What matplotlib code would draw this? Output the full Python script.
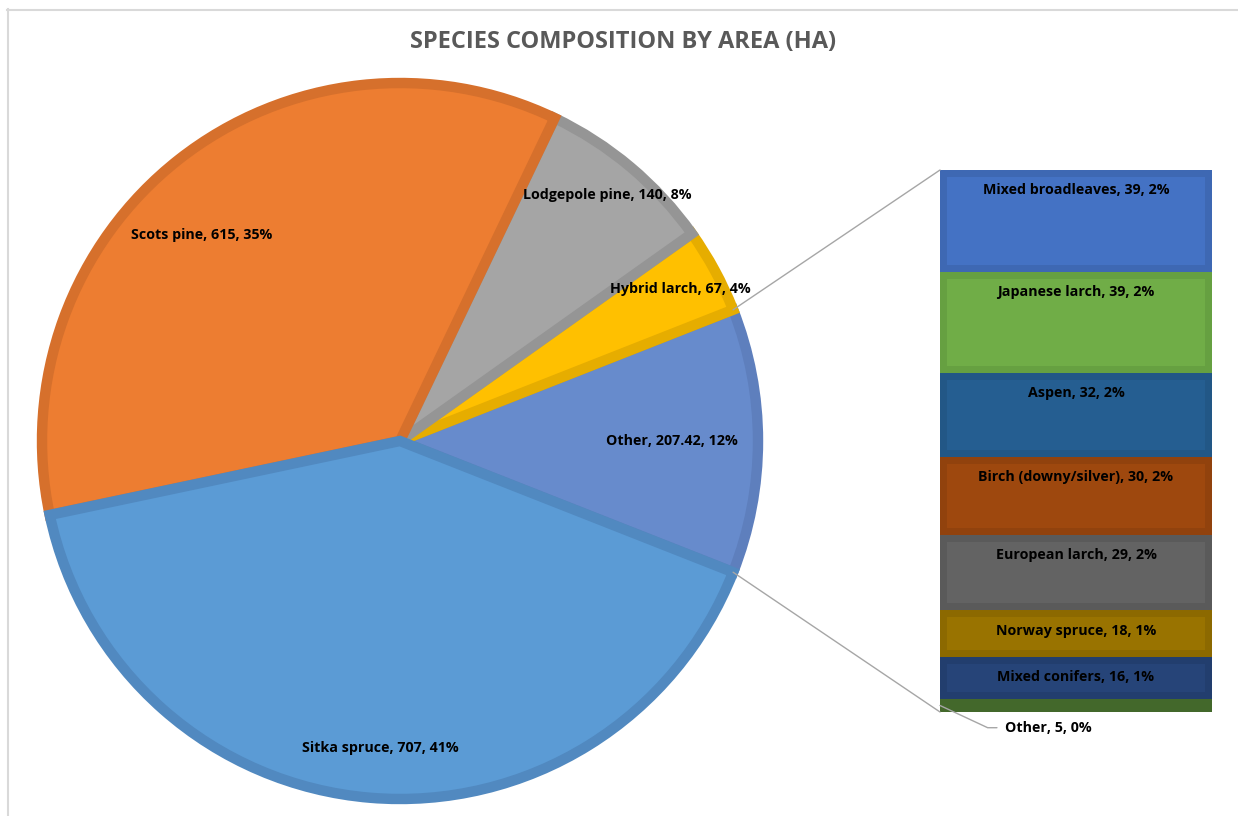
import numpy as np
import matplotlib
matplotlib.use("Agg")
import matplotlib.pyplot as plt
from matplotlib.patches import ConnectionPatch

plt.rcParams['font.family'] = ['Open Sans', 'DejaVu Sans']

# pie data (counter-clockwise from the right, "Other" first)
pie_labels = ["Other", "Hybrid larch", "Lodgepole pine", "Scots pine", "Sitka spruce"]
pie_values = [207.42, 67, 140, 615, 707]
pie_colors = ["#678BCC", "#FFC000", "#A5A5A5", "#ED7D31", "#5B9BD5"]
pie_edges = ["#5E7FBD", "#E6AD00", "#959595", "#D6702C", "#5189C0"]

# breakdown of "Other" (top to bottom)
bar_labels = ["Mixed broadleaves", "Japanese larch", "Aspen", "Birch (downy/silver)",
              "European larch", "Norway spruce", "Mixed conifers", "Other"]
bar_values = [39, 39, 32, 30, 29, 18, 16, 5]
bar_colors = ["#4472C4", "#70AD47", "#255E91", "#9E480E",
              "#636363", "#997300", "#264478", "#43682B"]
bar_edges = ["#3E68B3", "#66A041", "#225786", "#91420D",
             "#5A5A5A", "#8C6900", "#223E6E", "#43682B"]

W, H = 1238, 816
FS = 10.3
fig = plt.figure(figsize=(W / 100, H / 100), dpi=100)
ax = fig.add_axes([0, 0, 1, 1])

total = sum(pie_values)
cx, cy, R = 400, H - 441, 358
start = -pie_values[0] / total * 180

wedges, _ = ax.pie(pie_values, colors=pie_colors, startangle=start,
                   center=(cx, cy), radius=R, counterclock=True)
for w, ec in zip(wedges, pie_edges):
    w.set_edgecolor(ec)
    w.set_linewidth(7.5)
    w.set_joinstyle('miter')
    w.set_clip_path(w)

# label placement (radius fraction and angle nudge)
label_r = [0.76, 0.89, 0.90, 0.80, 0.86]
label_shift = [0, 0, 0, 5.7, 1.1]
for w, name, v, rf, sh in zip(wedges, pie_labels, pie_values, label_r, label_shift):
    mid = np.deg2rad((w.theta1 + w.theta2) / 2 + sh)
    pct = v / total * 100
    ax.text(cx + rf * R * np.cos(mid), cy + rf * R * np.sin(mid),
            f"{name}, {v:g}, {pct:.0f}%", ha='center', va='center',
            fontsize=FS, fontweight='bold', color='black')

ax.set_xlim(0, W)
ax.set_ylim(0, H)
ax.axis('off')

# bar of the "Other" slice
ax2 = fig.add_axes([940 / W, 104 / H, 272 / W, 542 / H])
btotal = sum(bar_values)
bottoms = btotal - np.cumsum(bar_values)
bars = ax2.bar(0, bar_values, bottom=bottoms, width=1, color=bar_colors,
               edgecolor=bar_edges, linewidth=10)
for b in bars:
    b.set_clip_path(b)
ax2.set_xlim(-0.5, 0.5)
ax2.set_ylim(0, btotal)
ax2.axis('off')

for name, v, b0 in zip(bar_labels[:-1], bar_values[:-1], bottoms[:-1]):
    pct = v / total * 100
    ax2.annotate(f"{name}, {v}, {pct:.0f}%", xy=(0, b0 + v), xytext=(0, -14.5),
                 textcoords='offset points', ha='center', va='center',
                 fontsize=FS, fontweight='bold', color='black')

ax2.annotate(f"{bar_labels[-1]}, {bar_values[-1]}, {bar_values[-1] / total * 100:.0f}%",
             xy=(-0.5, bottoms[-1] + bar_values[-1] / 2), xytext=(47, -16),
             textcoords='offset points', ha='left', va='center',
             fontsize=FS, fontweight='bold', color='black',
             arrowprops=dict(arrowstyle='-', color='#A6A6A6', lw=1,
                             shrinkA=4, shrinkB=0,
                             connectionstyle='angle,angleA=0,angleB=-25,rad=0'))

# connector lines pie -> bar
oth = wedges[0]
for ang, ybar in [(oth.theta2, btotal), (oth.theta1, 0)]:
    a = np.deg2rad(ang)
    con = ConnectionPatch(xyA=(cx + R * np.cos(a), cy + R * np.sin(a)), coordsA=ax.transData,
                          xyB=(-0.5, ybar), coordsB=ax2.transData,
                          color='#A6A6A6', lw=1)
    fig.add_artist(con)

# title and chart frame
fig.text(623 / W, 1 - 42 / H, "SPECIES COMPOSITION BY AREA (HA)", ha='center', va='center',
         fontsize=17, fontweight='bold', color='#595959')
fig.add_artist(plt.Line2D([7.5 / W, 7.5 / W], [0, 1 - 9 / H], color='#D9D9D9', lw=1.5))
fig.add_artist(plt.Line2D([7 / W, 1], [1 - 9.5 / H, 1 - 9.5 / H], color='#D9D9D9', lw=1.5))

fig.savefig("out.png", dpi=100)
